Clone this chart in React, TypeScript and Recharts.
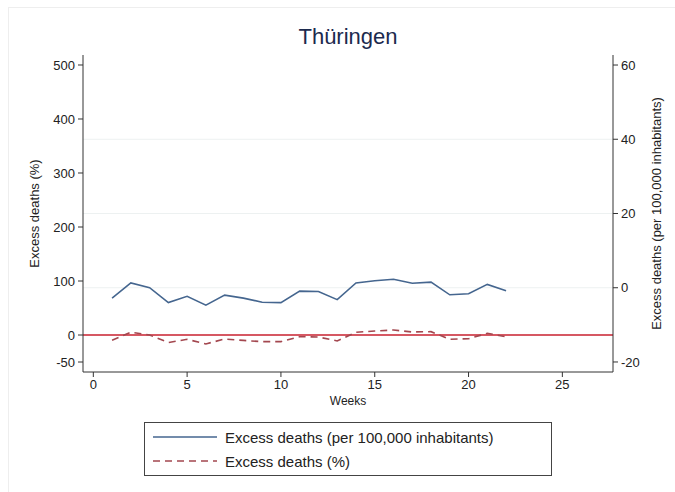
import {
  ComposedChart,
  Line,
  XAxis,
  YAxis,
  ReferenceLine,
  Legend,
} from 'recharts';

const weeks = [1, 2, 3, 4, 5, 6, 7, 8, 9, 10, 11, 12, 13, 14, 15, 16, 17, 18, 19, 20, 21, 22];
const perCapita = [-2.8, 1.3, 0, -4.0, -2.3, -4.7, -2.0, -2.8, -3.9, -4.0, -0.9, -1.0, -3.2, 1.3, 1.9, 2.3, 1.2, 1.5, -1.9, -1.6, 0.9, -0.8];
const percent = [-9.8, 5, 0, -14, -8, -16.5, -7.4, -10, -12.3, -12.3, -3.1, -3.7, -11, 5, 7.4, 9.3, 5.6, 6.2, -8, -6.8, 3.1, -3.1];

const xTicks = [0, 5, 10, 15, 20, 25];
const leftTicks = [-50, 0, 100, 200, 300, 400, 500];
const rightTicks = [-20, 0, 20, 40, 60];
const gridTicks = [0, 20, 40];

const data = weeks.map((w, i) => ({ week: w, perCapita: perCapita[i], percent: percent[i] }));

const FONT = '"Liberation Sans", Arial, Helvetica, sans-serif';
const BLUE = '#45668f';
const RED = '#a3474f';
const TEXT = '#222';

function LegendBox() {
  const row = (dash: boolean, color: string, label: string) => (
    <div style={{ display: 'flex', alignItems: 'center', height: 24 }}>
      <svg width={72} height={10} style={{ marginLeft: 8 }}>
        <line x1={0} y1={5} x2={64} y2={5} stroke={color} strokeWidth={1.4} strokeDasharray={dash ? '7 5' : undefined} />
      </svg>
      <span style={{ fontSize: 15, color: TEXT, fontFamily: FONT }}>{label}</span>
    </div>
  );
  return (
    <div style={{ border: '1px solid #444', width: 408, height: 54, boxSizing: 'border-box', paddingTop: 2, background: '#fff' }}>
      {row(false, BLUE, 'Excess deaths (per 100,000 inhabitants)')}
      {row(true, RED, 'Excess deaths (%)')}
    </div>
  );
}

export default function App() {
  return (
    <div style={{ position: 'absolute', left: 0, top: 0, width: 675, height: 492, background: '#fff', fontFamily: FONT }}>
      <div style={{ position: 'absolute', left: 8, top: 7, width: 700, height: 600, borderLeft: '1px solid #eeeeee', borderTop: '1px solid #eeeeee' }} />
      <div style={{ position: 'absolute', left: 148, width: 400, top: 24, textAlign: 'center', fontSize: 22, color: '#1c2a4e' }}>
        Thüringen
      </div>
      <ComposedChart
        width={675}
        height={492}
        data={data}
        margin={{ top: 55, right: 0, left: 0, bottom: 90 }}
        style={{ position: 'absolute', left: 0, top: 0 }}
      >
        {gridTicks.map((t) => (
          <ReferenceLine key={t} yAxisId="right" y={t} stroke="#edf1f1" strokeWidth={1} />
        ))}
        <XAxis
          dataKey="week"
          type="number"
          domain={[-0.55, 27.7]}
          ticks={xTicks}
          allowDataOverflow
          height={30}
          tickSize={5}
          tickMargin={3}
          stroke="#333"
          tick={{ fill: TEXT, fontSize: 13, fontFamily: FONT }}
          label={{ value: 'Weeks', position: 'insideBottom', offset: -3, fill: TEXT, fontSize: 12, fontFamily: FONT }}
        />
        <YAxis
          yAxisId="left"
          orientation="left"
          width={83}
          domain={[-68.5, 518.5]}
          ticks={leftTicks}
          allowDataOverflow
          tickSize={5}
          tickMargin={3}
          stroke="#333"
          tick={{ fill: TEXT, fontSize: 13, fontFamily: FONT }}
          label={{ value: 'Excess deaths (%)', angle: -90, position: 'insideLeft', offset: 34, style: { textAnchor: 'middle' }, fill: TEXT, fontSize: 13, fontFamily: FONT }}
        />
        <YAxis
          yAxisId="right"
          orientation="right"
          width={62}
          domain={[-22.7, 62.7]}
          ticks={rightTicks}
          allowDataOverflow
          tickSize={5}
          tickMargin={3}
          stroke="#333"
          tick={{ fill: TEXT, fontSize: 13, fontFamily: FONT }}
          label={{ value: 'Excess deaths (per 100,000 inhabitants)', angle: -90, position: 'insideRight', offset: 19, style: { textAnchor: 'middle' }, fill: TEXT, fontSize: 13, fontFamily: FONT }}
        />
        <ReferenceLine yAxisId="left" y={0} stroke="#c8202f" strokeWidth={1.3} />
        <Line
          yAxisId="right"
          dataKey="perCapita"
          stroke={BLUE}
          strokeWidth={1.6}
          dot={false}
          isAnimationActive={false}
          name="Excess deaths (per 100,000 inhabitants)"
        />
        <Line
          yAxisId="left"
          dataKey="percent"
          stroke={RED}
          strokeWidth={1.6}
          strokeDasharray="7 5"
          dot={false}
          isAnimationActive={false}
          name="Excess deaths (%)"
        />
        <Legend
          layout="vertical"
          align="center"
          verticalAlign="middle"
          content={() => <LegendBox />}
          wrapperStyle={{ top: 422, left: 144, width: 410, height: 56 }}
        />
      </ComposedChart>
    </div>
  );
}
